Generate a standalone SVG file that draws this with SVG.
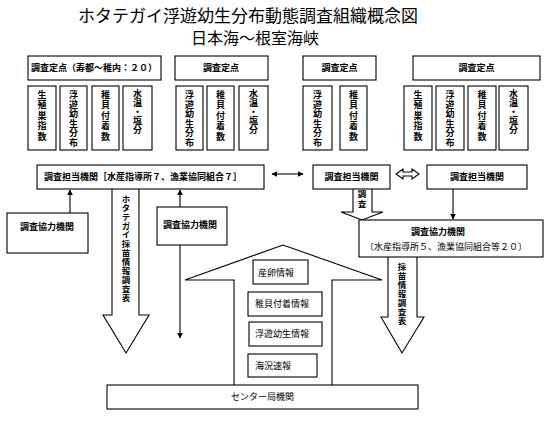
<svg xmlns="http://www.w3.org/2000/svg" width="548" height="429" viewBox="0 0 548 429">
<defs>
<marker id="ah" viewBox="0 0 10 10" refX="9" refY="5" markerWidth="6" markerHeight="6" orient="auto-start-reverse" markerUnits="userSpaceOnUse">
<path d="M0,0 L10,5 L0,10 z" fill="#000"/>
</marker>
<style>
text{font-family:"Noto Sans CJK JP","Noto Sans CJK SC",sans-serif;fill:#000}
.t1{font-size:17px}
.t2{font-size:16px}
.h{font-size:9px;font-weight:bold}
.n{font-size:9px}
.c{text-anchor:middle}
.v{font-size:9px;font-weight:bold;writing-mode:vertical-rl;letter-spacing:1.5px}
.v6{letter-spacing:0.6px}
.va{font-size:8.5px;font-weight:bold;writing-mode:vertical-rl;letter-spacing:0.5px}
rect{fill:#fff;stroke:#000;stroke-width:1.1}
.ln{fill:none;stroke:#000;stroke-width:1.1}
.hol{fill:#fff;stroke:#000;stroke-width:1.1;stroke-linejoin:miter}
</style>
</defs>
<rect x="0" y="0" width="548" height="429" style="stroke:none"/>
<g id="title">
<text class="t1 c" x="248" y="22">ホタテガイ浮遊幼生分布動態調査組織概念図</text>
<text class="t2 c" x="255" y="44">日本海～根室海峡</text>
</g>

<g id="connectors">
<path class="hol" d="M112,189 V315 H103 L126,353 L149,315 H139 V189"/>
<path class="hol" d="M234,385 V280 H185 L283,245 L382,280 H332 V385"/>
<path class="hol" d="M353,189 V212 H341 L362,220 L383,212 H372 V189"/>
<path class="hol" d="M388,257 V317 H381 L402,353 L424,317 H417 V257"/>
<line class="ln" x1="272" y1="174" x2="303" y2="174" marker-start="url(#ah)" marker-end="url(#ah)"/>
<path class="hol" d="M396,174 l7,-5 v3 h9 v-3 l7,5 l-7,5 v-3 h-9 v3 z"/>
<line class="ln" x1="70" y1="213" x2="70" y2="190" marker-end="url(#ah)"/>
<line class="ln" x1="180" y1="207" x2="180" y2="190" marker-end="url(#ah)"/>
<line class="ln" x1="180" y1="245" x2="180" y2="338" marker-end="url(#ah)"/>
<line class="ln" x1="453" y1="189" x2="453" y2="219" marker-end="url(#ah)"/>
<text class="va" x="126" y="195">ホタテガイ採苗情報調査表</text>
<text class="va" x="362" y="190" style="letter-spacing:1.5px">調査</text>
<text class="va" x="402" y="263">採苗情報調査表</text>
</g>

<g id="pt1">
<rect x="28" y="56" width="133" height="24"/>
<text class="h c" x="94" y="71">調査定点（寿都～稚内：２０）</text>
</g>
<g id="pt1a"><rect x="28" y="86" width="28" height="64"/><text class="v" x="42" y="90">生殖巣指数</text></g>
<g id="pt1b"><rect x="60" y="86" width="27" height="64"/><text class="v v6" x="73.5" y="90">浮遊幼生分布</text></g>
<g id="pt1c"><rect x="92" y="86" width="27" height="64"/><text class="v" x="105.5" y="90">稚貝付着数</text></g>
<g id="pt1d"><rect x="123" y="86" width="29" height="64"/><text class="v" x="137.5" y="89" style="letter-spacing:0">水温・塩分</text></g>

<g id="pt2">
<rect x="175" y="56" width="93" height="24"/>
<text class="h c" x="221" y="71">調査定点</text>
</g>
<g id="pt2a"><rect x="176" y="86" width="27" height="64"/><text class="v v6" x="189.5" y="90">浮遊幼生分布</text></g>
<g id="pt2b"><rect x="207" y="86" width="27" height="64"/><text class="v" x="220.5" y="90">稚貝付着数</text></g>
<g id="pt2c"><rect x="239" y="86" width="29" height="64"/><text class="v" x="253.5" y="89" style="letter-spacing:0">水温・塩分</text></g>

<g id="pt3">
<rect x="303" y="56" width="73" height="24"/>
<text class="h c" x="339.5" y="71">調査定点</text>
</g>
<g id="pt3a"><rect x="303" y="86" width="29" height="64"/><text class="v v6" x="317.5" y="90">浮遊幼生分布</text></g>
<g id="pt3b"><rect x="340" y="86" width="27" height="64"/><text class="v" x="353.5" y="90">稚貝付着数</text></g>

<g id="pt4">
<rect x="413" y="56" width="127" height="24"/>
<text class="h c" x="476.5" y="71">調査定点</text>
</g>
<g id="pt4a"><rect x="404" y="86" width="28" height="64"/><text class="v" x="418" y="90">生殖巣指数</text></g>
<g id="pt4b"><rect x="436" y="86" width="28" height="64"/><text class="v v6" x="450" y="90">浮遊幼生分布</text></g>
<g id="pt4c"><rect x="468" y="86" width="28" height="64"/><text class="v" x="482" y="90">稚貝付着数</text></g>
<g id="pt4d"><rect x="499" y="86" width="29" height="64"/><text class="v" x="513.5" y="89" style="letter-spacing:0">水温・塩分</text></g>

<g id="tanto1">
<rect x="37" y="165" width="227" height="24"/>
<text class="h" x="44" y="180">調査担当機関［水産指導所７、漁業協同組合７］</text>
</g>
<g id="tanto2">
<rect x="313" y="165" width="77" height="24"/>
<text class="h c" x="351.5" y="180">調査担当機関</text>
</g>
<g id="tanto3">
<rect x="427" y="165" width="100" height="24"/>
<text class="h c" x="477" y="180">調査担当機関</text>
</g>
<g id="kyoryoku1">
<rect x="7" y="213" width="81" height="40"/>
<text class="h" x="20" y="230">調査協力機関</text>
</g>
<g id="kyoryoku2">
<rect x="157" y="207" width="70" height="38"/>
<text class="h" x="163" y="228">調査協力機関</text>
</g>
<g id="kyoryoku3">
<rect x="359" y="220" width="184" height="37"/>
<text class="h" x="411" y="235">調査協力機関</text>
<text class="n" x="365" y="250">〔水産指導所５、漁業協同組合等２０〕</text>
</g>
<g id="info1"><rect x="253" y="260" width="55" height="24"/><text class="n" x="258" y="276">産卵情報</text></g>
<g id="info2"><rect x="248" y="292" width="74" height="24"/><text class="n" x="255" y="307">稚貝付着情報</text></g>
<g id="info3"><rect x="249" y="322" width="73" height="24"/><text class="n" x="255" y="337">浮遊幼生情報</text></g>
<g id="info4"><rect x="248" y="354" width="69" height="23"/><text class="n" x="255" y="369">海況速報</text></g>
<g id="center">
<rect x="107" y="385" width="311" height="24"/>
<text class="n c" x="262.5" y="400">センター局機関</text>
</g>
</svg>
